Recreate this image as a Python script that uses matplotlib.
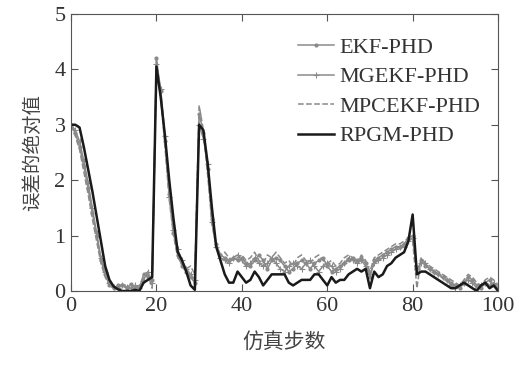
import numpy as np
import matplotlib
matplotlib.use("Agg")
import matplotlib.pyplot as plt

plt.rcParams['font.family'] = ['Liberation Serif', 'Noto Sans CJK SC']

# ============== 数据 ==============
steps = np.arange(0, 101)

ekf = [3.0, 2.85, 2.6, 2.25, 1.85, 1.4, 1.0, 0.55, 0.3, 0.1,
       0.05, 0.1, 0.1, 0.05, 0.12, 0.05, 0.05, 0.3, 0.25, 0.2,
       4.2, 3.6, 2.7, 1.75, 1.05, 0.65, 0.45, 0.35, 0.25, 0.15,
       3.2, 2.85, 2.2, 1.3, 0.85, 0.65, 0.6, 0.55, 0.6, 0.55,
       0.6, 0.5, 0.45, 0.55, 0.65, 0.55, 0.4, 0.55, 0.6, 0.55,
       0.45, 0.35, 0.4, 0.5, 0.55, 0.5, 0.4, 0.5, 0.55, 0.6,
       0.45, 0.35, 0.4, 0.45, 0.5, 0.55, 0.6, 0.55, 0.6, 0.5,
       0.25, 0.55, 0.6, 0.65, 0.7, 0.75, 0.8, 0.8, 0.85, 0.95,
       1.0, 0.35, 0.55, 0.45, 0.4, 0.35, 0.3, 0.25, 0.2, 0.15,
       0.1, 0.05, 0.15, 0.25, 0.2, 0.1, 0.05, 0.15, 0.2, 0.1, 0.05]

mgekf = [3.0, 2.9, 2.7, 2.35, 1.95, 1.5, 1.05, 0.6, 0.35, 0.15,
         0.08, 0.05, 0.1, 0.08, 0.05, 0.1, 0.05, 0.2, 0.35, 0.15,
         4.1, 3.65, 2.8, 1.7, 1.1, 0.75, 0.55, 0.4, 0.3, 0.2,
         3.0, 2.75, 2.3, 1.25, 0.8, 0.6, 0.55, 0.5, 0.6, 0.65,
         0.55, 0.45, 0.5, 0.6, 0.5, 0.45, 0.5, 0.6, 0.5, 0.4,
         0.35, 0.45, 0.5, 0.45, 0.4, 0.5, 0.55, 0.45, 0.35, 0.45,
         0.5, 0.45, 0.35, 0.4, 0.5, 0.6, 0.55, 0.5, 0.55, 0.45,
         0.3, 0.5, 0.55, 0.6, 0.65, 0.7, 0.75, 0.8, 0.8, 0.9,
         0.95, 0.4, 0.5, 0.5, 0.4, 0.35, 0.3, 0.25, 0.2, 0.1,
         0.05, 0.1, 0.15, 0.2, 0.15, 0.05, 0.1, 0.15, 0.1, 0.15, 0.05]

mpcekf = [3.0, 2.8, 2.55, 2.15, 1.75, 1.3, 0.9, 0.5, 0.25, 0.1,
          0.05, 0.08, 0.12, 0.1, 0.05, 0.08, 0.1, 0.25, 0.3, 0.05,
          4.2, 3.5, 2.6, 1.65, 1.0, 0.6, 0.5, 0.4, 0.45, 0.3,
          3.35, 2.9, 2.1, 1.2, 0.8, 0.65, 0.7, 0.6, 0.55, 0.6,
          0.65, 0.55, 0.6, 0.7, 0.55, 0.5, 0.65, 0.6, 0.7, 0.6,
          0.5, 0.55, 0.45, 0.6, 0.65, 0.55, 0.5, 0.6, 0.65, 0.55,
          0.5, 0.55, 0.45, 0.5, 0.6, 0.65, 0.6, 0.5, 0.65, 0.55,
          0.35, 0.6, 0.65, 0.7, 0.75, 0.8, 0.85, 0.85, 0.9, 0.95,
          0.9, 0.05, 0.6, 0.5, 0.45, 0.4, 0.35, 0.3, 0.25, 0.2,
          0.15, 0.1, 0.2, 0.3, 0.25, 0.15, 0.1, 0.2, 0.25, 0.2, 0.1]

rpgm = [3.0, 3.0, 2.95, 2.6, 2.2, 1.8, 1.35, 0.9, 0.45, 0.2,
        0.08, 0.03, 0.0, 0.0, 0.0, 0.02, 0.0, 0.15, 0.2, 0.25,
        4.05, 3.5, 2.8, 2.0, 1.3, 0.7, 0.55, 0.35, 0.1, 0.02,
        3.0, 2.9, 2.3, 1.5, 0.8, 0.55, 0.3, 0.15, 0.15, 0.35,
        0.25, 0.15, 0.2, 0.35, 0.25, 0.1, 0.2, 0.3, 0.3, 0.3,
        0.3, 0.15, 0.1, 0.15, 0.2, 0.2, 0.2, 0.3, 0.3, 0.2,
        0.1, 0.25, 0.15, 0.2, 0.2, 0.3, 0.35, 0.4, 0.35, 0.4,
        0.05, 0.35, 0.25, 0.3, 0.45, 0.5, 0.6, 0.65, 0.7, 0.9,
        1.38, 0.3, 0.35, 0.35, 0.3, 0.25, 0.2, 0.15, 0.1, 0.05,
        0.05, 0.1, 0.15, 0.1, 0.05, 0.0, 0.1, 0.15, 0.05, 0.1, 0.0]

labels = ['EKF-PHD', 'MGEKF-PHD', 'MPCEKF-PHD', 'RPGM-PHD']
xticks = [0, 20, 40, 60, 80, 100]
yticks = [0, 1, 2, 3, 4, 5]

# ============== 绘图 ==============
fig = plt.figure(figsize=(5.24, 3.66), dpi=100)
ax = fig.add_axes([0.1355, 0.205, 0.815, 0.757])

gray = '#8a8a8a'
ax.plot(steps, ekf, color=gray, lw=1.1, marker='.', ms=4, label=labels[0])
ax.plot(steps, mgekf, color=gray, lw=1.1, marker='+', ms=4, mew=0.8, label=labels[1])
ax.plot(steps, mpcekf, color=gray, lw=1.1, ls='--', label=labels[2])
ax.plot(steps, rpgm, color='#1a1a1a', lw=1.8, label=labels[3])

ax.set_xlim(0, 100)
ax.set_ylim(0, 5)
ax.set_xticks(xticks)
ax.set_yticks(yticks)
ax.tick_params(direction='in', top=True, right=True, length=5, width=0.8,
               color='#555555', labelsize=16, labelcolor='#333333', pad=4)
for s in ax.spines.values():
    s.set_color('#555555')
    s.set_linewidth(0.8)

ax.set_ylabel('误差的绝对值', fontsize=14, color='#444444',
              family=['Noto Sans CJK SC'], labelpad=8)
ax.set_xlabel('仿真步数', fontsize=15, color='#444444',
              family=['Noto Sans CJK SC'], labelpad=12)

leg = ax.legend(loc='upper left', bbox_to_anchor=(0.532, 0.915), frameon=False,
                fontsize=16, handlelength=1.6, handletextpad=0.25,
                labelspacing=0.4, borderaxespad=0, borderpad=0)
for t in leg.get_texts():
    t.set_color('#333333')

plt.savefig('out.png', dpi=100)
plt.close()
